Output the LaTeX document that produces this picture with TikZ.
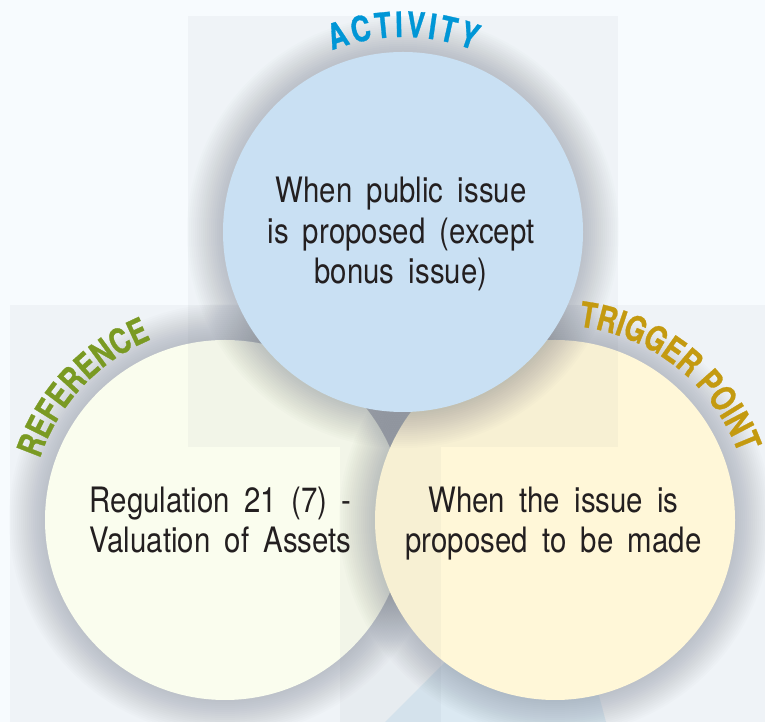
\documentclass[tikz,border=0pt]{standalone}
\usepackage{fontspec}
\newfontfamily\bodyfont[FakeStretch=0.84,WordSpace=1.75]{TeX Gyre Heros}
\newfontfamily\lblfont[FakeStretch=0.78,FakeBold=0.8]{TeX Gyre Heros}
\usetikzlibrary{decorations.text}
\definecolor{bgc}{RGB}{247,251,254}
\definecolor{ovl}{RGB}{100,112,125}
\definecolor{shadowc}{RGB}{70,78,95}
\definecolor{topc}{RGB}{207,231,250}
\definecolor{leftc}{RGB}{250,253,238}
\definecolor{rightc}{RGB}{255,247,216}
\definecolor{txtc}{RGB}{35,31,32}
\definecolor{actc}{RGB}{0,150,214}
\definecolor{refc}{RGB}{122,154,35}
\definecolor{trgc}{RGB}{196,154,16}
\definecolor{paleblue}{RGB}{196,223,238}
\newcommand\circshadow[1]{\foreach \k in {1,...,18}{\fill[shadowc,fill opacity=0.016] (#1) circle[radius={180+2*\k}];}}
\newcommand\lblfmt{\fontsize{35}{35}\selectfont\lblfont\bfseries}
\tikzset{
  bubble/.style={circle,minimum size=360pt,inner sep=0pt},
  bodytext/.style={align=center,text=txtc,inner sep=0pt,font=\fontsize{35}{40.5}\selectfont\bodyfont},
  overlay box/.style={fill=ovl,fill opacity=0.05},
  arclabel/.style={decorate,decoration={text along path,text align=center,text color=#1}},
}
\begin{document}
\begin{tikzpicture}[x=1pt,y=1pt]
\useasboundingbox (0,0) rectangle (765,722);
\fill[bgc] (0,0) rectangle (765,722);
% lower translucent band
\fill[overlay box] (10,0) rectangle (765,417);
% pale blue background shape
\fill[paleblue,fill opacity=0.45] (385,0) -- (445,60) -- (590,60) -- (606,0) -- cycle;
% centres
\coordinate (cl) at (225,202);
\coordinate (cr) at (555,202);
\coordinate (ct) at (403,490);
% circles with soft shadows
\circshadow{cl}
\node[bubble,fill=leftc] (leftcirc) at (cl) {};
\circshadow{cr}
\node[bubble,fill=rightc] (rightcirc) at (cr) {};
\circshadow{ct}
\node[bubble,fill=topc] (topcirc) at (ct) {};
% upper translucent boxes
\fill[overlay box] (188,275) rectangle (618,706);
\fill[overlay box] (340,0) rectangle (441,275);
% body texts
\node[bodytext] (acttext) at (401,488) {When public issue\\is proposed (except\\bonus issue)};
\node[bodytext] (reftext) at (220.5,202) {Regulation 21 (7) -\\Valuation of Assets};
\node[bodytext] (trgtext) at (553.5,198.5) {When the issue is\\proposed to be made};
% curved labels
\path[arclabel=actc,decoration={text={|\lblfmt|A{\kern3pt}C{\kern3pt}T{\kern3pt}I{\kern3pt}V{\kern3pt}I{\kern3pt}T{\kern3pt}Y}}]
  ([shift={(140:195)}]ct) arc[start angle=140,end angle=40,radius=195];
\path[arclabel=refc,decoration={text={|\lblfmt|REFERENCE}}]
  ([shift={(182:195)}]cl) arc[start angle=182,end angle=92,radius=195];
\path[arclabel=trgc,decoration={text={|\lblfmt|TRIGGER POINT}}]
  ([shift={(101:195)}]cr) arc[start angle=101,end angle=2,radius=195];
\end{tikzpicture}
\end{document}
